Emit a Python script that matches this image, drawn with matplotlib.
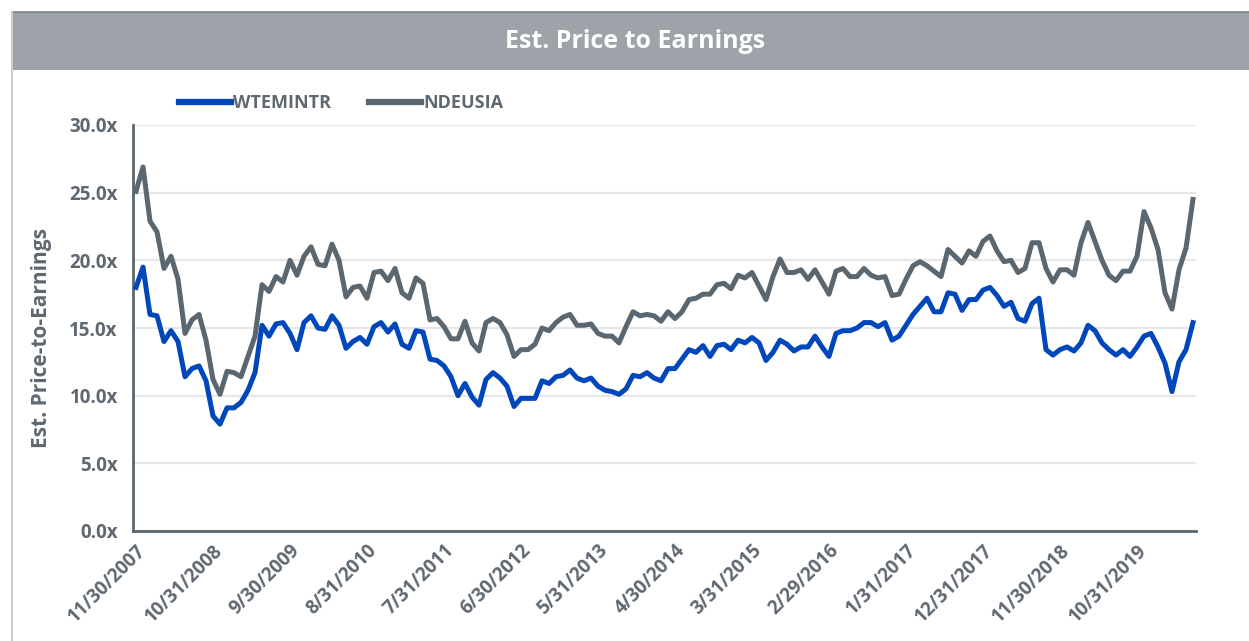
import numpy as np
import pandas as pd
import matplotlib
matplotlib.use("Agg")
import matplotlib.pyplot as plt
from matplotlib.patches import Rectangle
from matplotlib.lines import Line2D

plt.rcParams['font.family'] = ['Open Sans', 'DejaVu Sans']

# monthly dates, 11/30/2007 .. 6/30/2020
dates = pd.date_range("2007-11-30", periods=152, freq="ME")

wtemintr = [
    18.0, 19.5, 16.0, 15.9, 14.0, 14.8, 14.0, 11.4, 12.0, 12.2,
    11.1, 8.5, 7.9, 9.1, 9.1, 9.5, 10.4, 11.7, 15.2, 14.4,
    15.3, 15.4, 14.6, 13.4, 15.4, 15.9, 15.0, 14.9, 15.9, 15.2,
    13.5, 14.0, 14.3, 13.8, 15.1, 15.4, 14.7, 15.3, 13.8, 13.5,
    14.8, 14.7, 12.7, 12.6, 12.2, 11.4, 10.0, 10.9, 9.9, 9.3,
    11.2, 11.7, 11.3, 10.7, 9.2, 9.8, 9.8, 9.8, 11.1, 10.9,
    11.4, 11.5, 11.9, 11.3, 11.1, 11.3, 10.7, 10.4, 10.3, 10.1,
    10.5, 11.5, 11.4, 11.7, 11.3, 11.1, 12.0, 12.0, 12.7, 13.4,
    13.2, 13.7, 12.9, 13.7, 13.8, 13.4, 14.1, 13.9, 14.3, 13.9,
    12.6, 13.2, 14.1, 13.8, 13.3, 13.6, 13.6, 14.4, 13.6, 12.9,
    14.6, 14.8, 14.8, 15.0, 15.4, 15.4, 15.1, 15.4, 14.1, 14.4,
    15.2, 16.0, 16.6, 17.2, 16.2, 16.2, 17.6, 17.5, 16.3, 17.1,
    17.1, 17.8, 18.0, 17.4, 16.6, 16.9, 15.7, 15.5, 16.8, 17.2,
    13.4, 13.0, 13.4, 13.6, 13.3, 13.9, 15.2, 14.8, 13.9, 13.4,
    13.0, 13.4, 12.9, 13.6, 14.4, 14.6, 13.6, 12.4, 10.3, 12.5,
    13.4, 15.4,
]

ndeusia = [
    25.1, 26.9, 22.9, 22.1, 19.4, 20.3, 18.6, 14.6, 15.6, 16.0,
    14.1, 11.2, 10.1, 11.8, 11.7, 11.4, 12.9, 14.4, 18.2, 17.7,
    18.8, 18.4, 20.0, 18.9, 20.3, 21.0, 19.7, 19.6, 21.2, 20.0,
    17.3, 18.0, 18.1, 17.2, 19.1, 19.2, 18.5, 19.4, 17.6, 17.2,
    18.7, 18.3, 15.6, 15.7, 15.1, 14.2, 14.2, 15.5, 13.9, 13.3,
    15.4, 15.7, 15.4, 14.5, 12.9, 13.4, 13.4, 13.8, 15.0, 14.8,
    15.4, 15.8, 16.0, 15.2, 15.2, 15.3, 14.6, 14.4, 14.4, 13.9,
    15.1, 16.2, 15.9, 16.0, 15.9, 15.5, 16.2, 15.7, 16.2, 17.1,
    17.2, 17.5, 17.5, 18.2, 18.3, 17.9, 18.9, 18.7, 19.1, 18.1,
    17.1, 18.8, 20.1, 19.1, 19.1, 19.3, 18.6, 19.3, 18.4, 17.5,
    19.2, 19.4, 18.8, 18.8, 19.4, 18.9, 18.7, 18.8, 17.4, 17.5,
    18.6, 19.6, 19.9, 19.6, 19.2, 18.8, 20.8, 20.3, 19.8, 20.7,
    20.3, 21.4, 21.8, 20.7, 19.9, 20.0, 19.1, 19.4, 21.3, 21.3,
    19.4, 18.4, 19.3, 19.3, 18.9, 21.3, 22.8, 21.4, 20.0, 18.9,
    18.5, 19.2, 19.2, 20.3, 23.6, 22.4, 20.8, 17.6, 16.4, 19.3,
    20.9, 24.5,
]

yticks = [0, 5, 10, 15, 20, 25, 30]

BLUE = "#0047bb"
GRAY = "#5b6770"
TXT = "#5f6870"
BAND = "#9da3a8"

fig = plt.figure(figsize=(12.49, 6.41), dpi=100)
fig.patch.set_facecolor("white")

# title band and page border
fig.add_artist(Rectangle((12 / 1249, 1 - 70 / 641), 1, 58 / 641,
                         transform=fig.transFigure, facecolor=BAND,
                         edgecolor="none", zorder=0))
fig.add_artist(Line2D([12 / 1249, 1], [1 - 12 / 641, 1 - 12 / 641],
                      transform=fig.transFigure, color="#7d8389", lw=1.2))
fig.add_artist(Line2D([12 / 1249, 12 / 1249], [0, 1 - 12 / 641],
                      transform=fig.transFigure, color="#c9cdd1", lw=1.5))
fig.text(635 / 1249, 1 - 41 / 641, "Est. Price to Earnings", color="white",
         fontsize=18, fontweight="bold", ha="center", va="center")

ax = fig.add_axes([133 / 1249, 1 - 531 / 641, (1196 - 133) / 1249, (531 - 125) / 641])

x = np.arange(len(dates))
ax.plot(x, wtemintr, color=BLUE, lw=3.6, label="WTEMINTR", solid_joinstyle="round", zorder=3)
ax.plot(x, ndeusia, color=GRAY, lw=3.6, label="NDEUSIA", solid_joinstyle="round", zorder=2)

ax.set_xlim(-0.43, len(dates) - 1 + 0.43)
ax.set_ylim(0, 30)
ax.set_yticks(yticks)
ax.set_yticklabels([f"{v:.1f}x" for v in yticks])
ax.yaxis.grid(True, color="#e6e7e8", lw=1.6)
ax.set_axisbelow(True)

tick_idx = list(range(0, len(dates), 11))
ax.set_xticks(tick_idx)
ax.set_xticklabels([f"{dates[i].month}/{dates[i].day}/{dates[i].year}" for i in tick_idx],
                   rotation=45, ha="right", rotation_mode="anchor")

ax.tick_params(axis="both", length=0, colors=TXT, labelsize=13.5)
ax.tick_params(axis="y", pad=11)
ax.tick_params(axis="x", pad=7)
for lab in ax.get_xticklabels() + ax.get_yticklabels():
    lab.set_fontweight("bold")

for side in ["top", "right"]:
    ax.spines[side].set_visible(False)
for side in ["left", "bottom"]:
    ax.spines[side].set_color(GRAY)
    ax.spines[side].set_linewidth(2)

ax.set_ylabel("Est. Price-to-Earnings", color=TXT, fontsize=15, fontweight="bold")
ax.yaxis.set_label_coords(-0.076, 0.475)

leg = ax.legend(loc="center left", bbox_to_anchor=(170 / 1249, 1 - 103 / 641),
                bbox_transform=fig.transFigure, ncol=2, frameon=False, borderpad=0,
                handlelength=2.9, handletextpad=0.1, columnspacing=2.1,
                prop={"weight": "bold", "size": 13})
for t in leg.get_texts():
    t.set_color(TXT)
for h in leg.get_lines():
    h.set_linewidth(4.5)

fig.savefig("out.png", dpi=100, facecolor="white")
